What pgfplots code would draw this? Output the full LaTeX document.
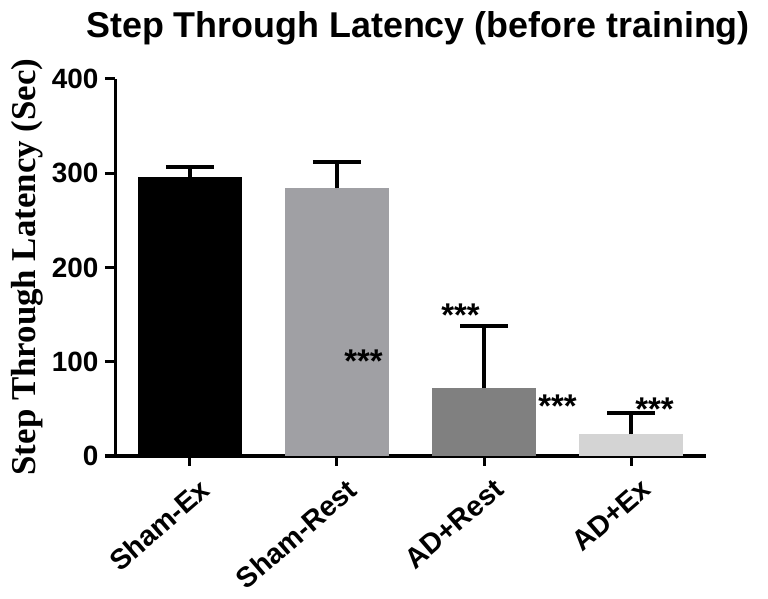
\documentclass[border=0pt]{standalone}
\usepackage{fontspec}
\setmainfont{Liberation Sans}
\newfontfamily\timesf{Liberation Serif}
\usepackage{pgfplots}
\pgfplotsset{compat=1.18}
\definecolor{shamrest}{RGB}{160,160,164}
\definecolor{adrest}{RGB}{128,128,128}
\definecolor{adex}{RGB}{212,212,212}
\pgfplotsset{
  errb/.style={error bars/.cd, y dir=plus, y explicit, error mark=|,
    error bar style={line width=4bp, black},
    error mark options={line width=4bp, mark size=24bp, black}},
}
\begin{document}
\begin{tikzpicture}
\path[use as bounding box] (0bp,0bp) rectangle (768bp,599bp);
\begin{axis}[
  at={(115bp,143bp)}, anchor=south west,
  width=591bp, height=377bp, scale only axis,
  xmin=-0.51, xmax=3.51, ymin=0, ymax=400,
  axis x line*=bottom, axis y line*=left,
  axis line style={-, line width=3bp, black},
  xtick={0,1,2,3},
  xticklabels={Sham-Ex,Sham-Rest,AD+Rest,AD+Ex},
  ytick={0,100,200,300,400},
  tick align=outside, major tick length=10bp,
  tick style={line width=3bp, black},
  /pgf/number format/assume math mode=true,
  yticklabel style={font=\fontsize{28}{28}\selectfont\bfseries, xshift=-3bp},
  xticklabel style={font=\fontsize{28.5}{28.5}\selectfont\bfseries, rotate=41, anchor=north east, inner sep=1bp, xshift=0bp, yshift=-13bp},
  clip=false,
]
\addplot[ybar, bar width=104bp, bar shift=0pt, fill=black, draw=none, errb] coordinates {(0,296) +- (0,11)};
\addplot[ybar, bar width=104bp, bar shift=0pt, fill=shamrest, draw=none, errb] coordinates {(1,284) +- (0,28)};
\addplot[ybar, bar width=104bp, bar shift=0pt, fill=adrest, draw=none, errb] coordinates {(2,72) +- (0,66)};
\addplot[ybar, bar width=104bp, bar shift=0pt, fill=adex, draw=none, errb] coordinates {(3,23) +- (0,23)};
\node[font=\fontsize{33}{33}\selectfont\bfseries] at (axis cs:1.18,101) {***};
\node[font=\fontsize{33}{33}\selectfont\bfseries] at (axis cs:1.84,149) {***};
\node[font=\fontsize{33}{33}\selectfont\bfseries] at (axis cs:2.50,53) {***};
\node[font=\fontsize{33}{33}\selectfont\bfseries] at (axis cs:3.16,50) {***};
\end{axis}
\node[anchor=base, font=\fontsize{36}{36}\selectfont\bfseries] at (418bp,561bp) {Step Through Latency (before training)};
\node[rotate=90, font=\fontsize{35}{35}\selectfont\timesf\bfseries] at (27bp,332bp) {Step Through Latency (Sec)};
\end{tikzpicture}
\end{document}
